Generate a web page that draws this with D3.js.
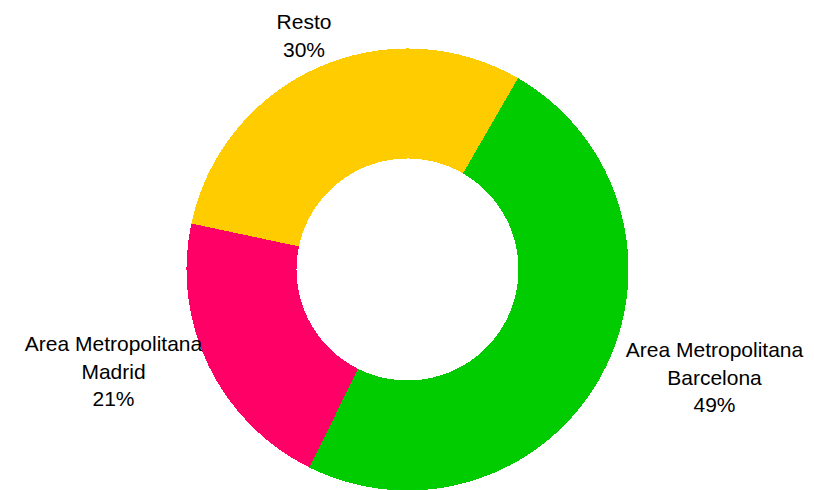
<!DOCTYPE html>
<html>
<head>
<meta charset="utf-8">
<script src="https://cdn.jsdelivr.net/npm/d3@7/dist/d3.min.js"></script>
<style>
  html, body { margin: 0; padding: 0; background: #ffffff; }
  svg { display: block; }
  text { font-family: "Liberation Sans", Arial, sans-serif; font-size: 21px; fill: #000; }
</style>
</head>
<body>
<svg id="chart" width="814" height="490"></svg>
<script>
// Share of the total by area, drawn clockwise starting at 30° from 12 o'clock
const categories = ["Area Metropolitana Barcelona", "Area Metropolitana Madrid", "Resto"];
const labelLines = [["Area Metropolitana", "Barcelona"], ["Area Metropolitana", "Madrid"], ["Resto"]];
const values = [49, 21, 30];
const colors = ["#00cc00", "#ff0066", "#ffcc00"];

const width = 814, height = 490;
const cx = 407.5, cy = 269.5;
const outerR = 221, innerR = 111;
const startDeg = 30;

// Where each label block is centred, and the baseline of its first line
const labelPos = {
  "Area Metropolitana Barcelona": { x: 714.5, y: 357 },
  "Area Metropolitana Madrid":    { x: 113.5, y: 351 },
  "Resto":                        { x: 304,   y: 29 }
};
const lineStep = 27.5;

const svg = d3.select("#chart");
const g = svg.append("g").attr("transform", `translate(${cx},${cy})`);

const data = categories.map((c, i) => ({ name: c, value: values[i], color: colors[i], lines: labelLines[i] }));
const total = d3.sum(values);

const pie = d3.pie()
  .value(d => d.value)
  .sort(null)
  .startAngle(startDeg * Math.PI / 180)
  .endAngle(startDeg * Math.PI / 180 + 2 * Math.PI);

const arc = d3.arc().innerRadius(innerR).outerRadius(outerR);

g.selectAll("path.slice")
  .data(pie(data))
  .join("path")
  .attr("class", "slice")
  .attr("d", arc)
  .attr("fill", d => d.data.color)
  .attr("shape-rendering", "crispEdges");

const fmt = d3.format(".0%");
const labels = svg.selectAll("text.lbl")
  .data(data)
  .join("text")
  .attr("class", "lbl")
  .attr("text-anchor", "middle")
  .attr("x", d => labelPos[d.name].x)
  .attr("y", d => labelPos[d.name].y);

labels.each(function(d) {
  const t = d3.select(this);
  const lines = d.lines.concat([fmt(d.value / total)]);
  lines.forEach((ln, i) => {
    t.append("tspan")
      .attr("x", labelPos[d.name].x)
      .attr("dy", i === 0 ? 0 : lineStep)
      .text(ln);
  });
});
</script>
</body>
</html>
